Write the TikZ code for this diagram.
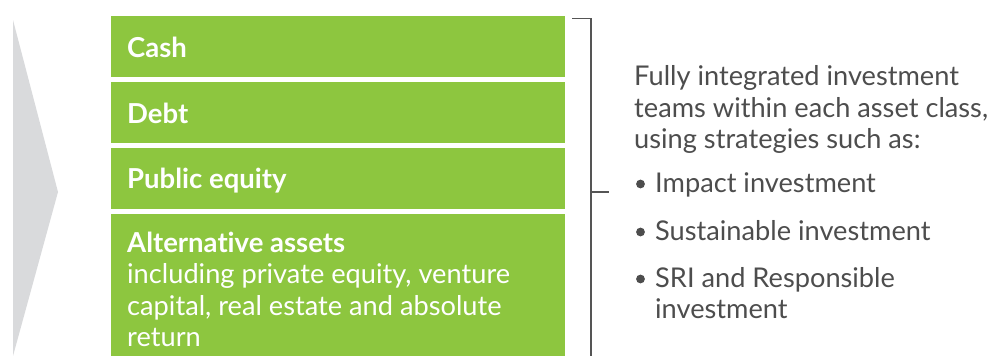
\documentclass[tikz,border=0pt]{standalone}
\usepackage{fontspec}
\setmainfont{Lato}[Ligatures={NoCommon,NoRare}]
\definecolor{leaf}{HTML}{8DC63F}
\definecolor{chev}{HTML}{D9DADC}
\definecolor{ink}{HTML}{4D4D4D}
\definecolor{brk}{HTML}{555555}
\tikzset{
  assetbox/.style={fill=leaf, draw=none},
  boxhead/.style={anchor=base west, inner sep=0pt, text=white, font=\fontsize{27.5}{31.5}\selectfont\bfseries},
  boxsub/.style={anchor=base west, inner sep=0pt, text=white, font=\fontsize{27.2}{31.5}\selectfont},
  sidetext/.style={anchor=base west, inner sep=0pt, text=ink, font=\fontsize{27.2}{31.5}\selectfont},
  bracketline/.style={draw=brk, line width=1.3pt},
  bulletdot/.style={fill=ink},
}
\begin{document}
\begin{tikzpicture}[x=1pt,y=-1pt]
\useasboundingbox (0,0) rectangle (989,356);
% chevron
\fill[chev] (13,20) -- (58,192) -- (13,356) -- cycle;
% boxes
\path[assetbox] (111,16) rectangle (565,77);
\path[assetbox] (111,82) rectangle (565,143);
\path[assetbox] (111,148) rectangle (565,209);
\path[assetbox] (111,214) rectangle (565,356);
\node[boxhead] (cash) at (127,57) {Cash};
\node[boxhead] (debt) at (127,123) {Debt};
\node[boxhead] (pub) at (127,188) {Public equity};
\node[boxhead] (alt) at (127,252) {Alternative assets};
\node[boxsub] (alt1) at (127,283) {including private equity, venture};
\node[boxsub] (alt2) at (127,315) {capital, real estate and absolute};
\node[boxsub] (alt3) at (127,346) {return};
% bracket
\coordinate (bt) at (572,18.5);
\coordinate (bc) at (591,18.5);
\coordinate (bb) at (591,356);
\coordinate (bm) at (591,192);
\coordinate (bmt) at (609,192);
\draw[bracketline] (bt) -- (bc) -- (bb);
\draw[bracketline] (bm) -- (bmt);
% side text
\node[sidetext] (s1) at (634,85) {Fully integrated investment};
\node[sidetext] (s2) at (634,117) {teams within each asset class,};
\node[sidetext] (s3) at (634,148) {using strategies such as:};
\path[bulletdot] (640.5,184) circle (4.4);
\path[bulletdot] (640.5,232) circle (4.4);
\path[bulletdot] (640.5,279) circle (4.4);
\node[sidetext] (b1) at (655,192) {Impact investment};
\node[sidetext] (b2) at (655,240) {Sustainable investment};
\node[sidetext] (b3) at (655,287) {SRI and Responsible};
\node[sidetext] (b4) at (655,318) {investment};
\end{tikzpicture}
\end{document}
